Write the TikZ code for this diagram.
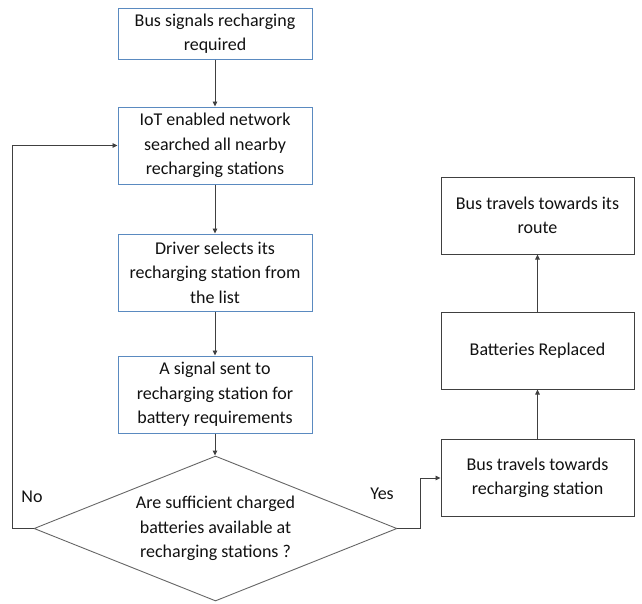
\documentclass[tikz,border=0pt]{standalone}
\usepackage{fontspec}
\setmainfont{Carlito}
\usetikzlibrary{shapes.geometric,arrows.meta}
\definecolor{boxblue}{HTML}{5A8AC0}
\definecolor{inkgray}{HTML}{404040}
\definecolor{txt}{HTML}{111111}
\begin{document}
\begin{tikzpicture}[x=1pt,y=-1pt,
  every node/.style={text=txt,font=\fontsize{18}{24.5}\selectfont},
  bluebox/.style={draw=boxblue,line width=1pt,rectangle,minimum width=194pt,align=center,inner sep=0pt},
  darkbox/.style={draw=inkgray,line width=1pt,rectangle,minimum width=193pt,minimum height=77pt,align=center,inner sep=0pt},
  decision/.style={draw=inkgray!80,line width=0.9pt,diamond,aspect=2.5,minimum width=363pt,minimum height=145pt,inner sep=0pt,align=center},
  flow/.style={draw=inkgray,line width=0.9pt,-{Triangle[length=5pt,width=4.5pt]}}]
\useasboundingbox (0,0) rectangle (642,603);

% left column: request and station search
\node[bluebox,minimum height=51pt] (b1) at (215,33.5) {Bus signals recharging\\required};
\node[bluebox,minimum height=77pt] (b2) at (215,145.5) {IoT enabled network\\searched all nearby\\recharging stations};
\node[bluebox,minimum height=77pt] (b3) at (215,272.5) {Driver selects its\\recharging station from\\the list};
\node[bluebox,minimum height=77pt] (b4) at (215,394.5) {A signal sent to\\recharging station for\\battery requirements};
\node[decision] (dec) at (215.5,528.5) {Are sufficient charged\\batteries available at\\recharging stations ?};

% right column: battery swap
\node[darkbox] (r1) at (537.5,478) {Bus travels towards\\recharging station};
\node[darkbox] (r2) at (537.5,350.5) {Batteries Replaced};
\node[darkbox] (r3) at (537.5,215.5) {Bus travels towards its\\route};

% connectors
\draw[flow] (b1.south) -- (b2.north);
\draw[flow] (b2.south) -- (b3.north);
\draw[flow] (b3.south) -- (b4.north);
\draw[flow] (b4.south) -- (b4.south |- dec.north);
\draw[flow] (dec.west) -- ++(-21,0) |- (b2.west);
\draw[flow] (dec.east) -- ++(23,0) |- (r1.west);
\draw[flow] (r1.north) -- (r2.south);
\draw[flow] (r2.north) -- (r3.south);

% branch labels
\node (no) at (32,497) {No};
\node (yes) at (382,494) {Yes};
\end{tikzpicture}
\end{document}
